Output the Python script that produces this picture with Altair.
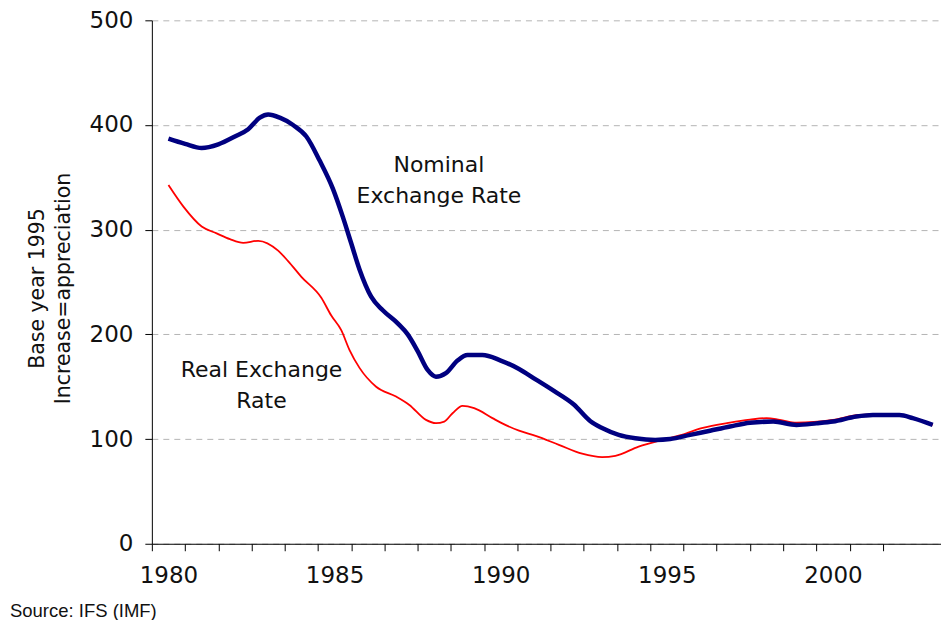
import altair as alt
import pandas as pd

# ---- data ----
nominal_years = [1980.0, 1980.5, 1981.0, 1981.5, 1982.0, 1982.4, 1982.75, 1983.0, 1983.35,
                 1983.75, 1984.15, 1984.55, 1984.95, 1985.25, 1985.5, 1985.75, 1986.1,
                 1986.45, 1986.9, 1987.2, 1987.5, 1987.8, 1988.05, 1988.35, 1988.7, 1989.0,
                 1989.45, 1990.0, 1990.55, 1991.05, 1991.6, 1992.2, 1992.7, 1993.05,
                 1993.55, 1994.05, 1994.65, 1995.1, 1995.7, 1996.3, 1996.9, 1997.5,
                 1998.2, 1998.9, 1999.5, 2000.0, 2000.7, 2001.2, 2002.0, 2002.4, 2003.0]
nominal_values = [387, 382, 378, 381.5, 389, 396, 407, 410, 407,
                  400, 389, 366, 339, 312, 287, 262, 236,
                  223, 210.5, 200, 184, 166, 159.6, 163, 175, 180.3,
                  180.3, 175, 167, 157, 146, 133, 117, 110.5,
                  104, 100.8, 99.2, 100, 104, 108, 112, 115.5,
                  116.7, 113.5, 115, 116.7, 121.5, 123, 123, 120, 113.5]

real_years = [1980.0, 1980.45, 1981.0, 1981.45, 1981.85, 1982.25, 1982.7, 1983.3, 1983.6,
              1984.0, 1984.6, 1984.9, 1985.2, 1985.45, 1985.75, 1986.25, 1986.85,
              1987.25, 1987.75, 1988.05, 1988.3, 1988.55, 1988.85, 1989.2, 1989.75,
              1990.0, 1990.55, 1991.05, 1991.75, 1992.45, 1993.05, 1993.45, 1994.15,
              1994.85, 1995.45, 1996.05, 1996.9, 1997.5, 1998.0, 1998.4, 1998.9,
              2000.0, 2000.8, 2001.6, 2002.0, 2002.4, 2003.0]
real_values = [342.6, 322, 303, 296.5, 291, 287.5, 289.4, 280, 270,
               255, 235, 218, 204, 185, 168, 150, 140.6,
               132.6, 118.3, 115.2, 116.7, 124.7, 131.7, 129.5, 120,
               115.7, 108, 103, 94.5, 86, 82.7, 84, 92.8,
               99.2, 104, 110.4, 115.7, 118.5, 120, 118.3, 115.7,
               118.3, 123, 123.7, 123, 120, 113.5]

label_texts = ["Nominal\nExchange Rate", "Real Exchange\nRate"]
label_years = [1988.14, 1982.8]
label_values = [361.5, 166]

y_ticks = [0, 100, 200, 300, 400, 500]
year_categories = list(range(1980, 2004))
y_title = ["Base year 1995", "Increase=appreciation"]
source_text = "Source: IFS (IMF)"

# ---- tables ----
nominal_df = pd.DataFrame({"year": nominal_years, "value": nominal_values})
real_df = pd.DataFrame({"year": real_years, "value": real_values})
labels_df = pd.DataFrame({"text": label_texts, "year": label_years, "value": label_values})

tick_positions = [y - 0.5 for y in year_categories[:-1]]

FONT = "DejaVu Sans"

x_scale = alt.Scale(domain=[1979.5, 2003.25], nice=False, zero=False)
y_scale = alt.Scale(domain=[0, 500], nice=False)

x_axis = alt.Axis(
    values=tick_positions,
    tickCount=40,
    labelExpr="(datum.value + 0.5) % 5 == 0 ? toString(datum.value + 0.5) : ''",
    labelOffset=16.6,
    labelAlign="center",
    labelOverlap=False,
    labelFlush=False,
    tickSize=7,
    tickColor="#000000",
    domainColor="#000000",
    labelColor="#111111",
    labelFont=FONT,
    labelFontSize=23,
    labelPadding=14,
    grid=False,
    title=None,
)

y_axis = alt.Axis(
    values=y_ticks,
    tickSize=7,
    tickColor="#000000",
    domainColor="#000000",
    labelColor="#111111",
    labelFont=FONT,
    labelFontSize=23,
    labelPadding=12,
    grid=True,
    gridDash=[6, 5],
    gridColor="#b4b4b4",
    gridWidth=1,
    title=y_title,
    titleFont=FONT,
    titleFontSize=20.5,
    titleFontWeight="normal",
    titleColor="#111111",
    titleX=-114,
    titleY=268,
    titleAngle=270,
    titleAlign="center",
    titleBaseline="middle",
    titleLineHeight=26,
)

real_line = alt.Chart(real_df).mark_line(
    color="#ff0000", strokeWidth=1.8, interpolate="monotone"
).encode(
    x=alt.X("year:Q", scale=x_scale, axis=x_axis),
    y=alt.Y("value:Q", scale=y_scale, axis=y_axis),
)

nominal_line = alt.Chart(nominal_df).mark_line(
    color="#000080", strokeWidth=4.5, interpolate="monotone"
).encode(
    x=alt.X("year:Q", scale=x_scale),
    y=alt.Y("value:Q", scale=y_scale),
)

labels = alt.Chart(labels_df).mark_text(
    font=FONT, fontSize=22, color="#111111", align="center", baseline="middle",
    lineBreak="\n", lineHeight=31,
).encode(
    x=alt.X("year:Q", scale=x_scale),
    y=alt.Y("value:Q", scale=y_scale),
    text="text:N",
)

chart = alt.layer(real_line, nominal_line, labels).properties(
    width=790,
    height=524,
    autosize=alt.AutoSizeParams(type="none"),
    padding={"left": 144, "top": 12, "right": 0, "bottom": 76},
    title=alt.TitleParams(
        text=source_text,
        orient="bottom",
        anchor="start",
        frame="group",
        dx=-142,
        offset=14,
        font="Liberation Sans",
        fontSize=18.5,
        fontWeight="normal",
        color="#111111",
    ),
).configure_view(stroke=None)

chart.save("out.html", embed_options={"renderer": "svg", "actions": False})
